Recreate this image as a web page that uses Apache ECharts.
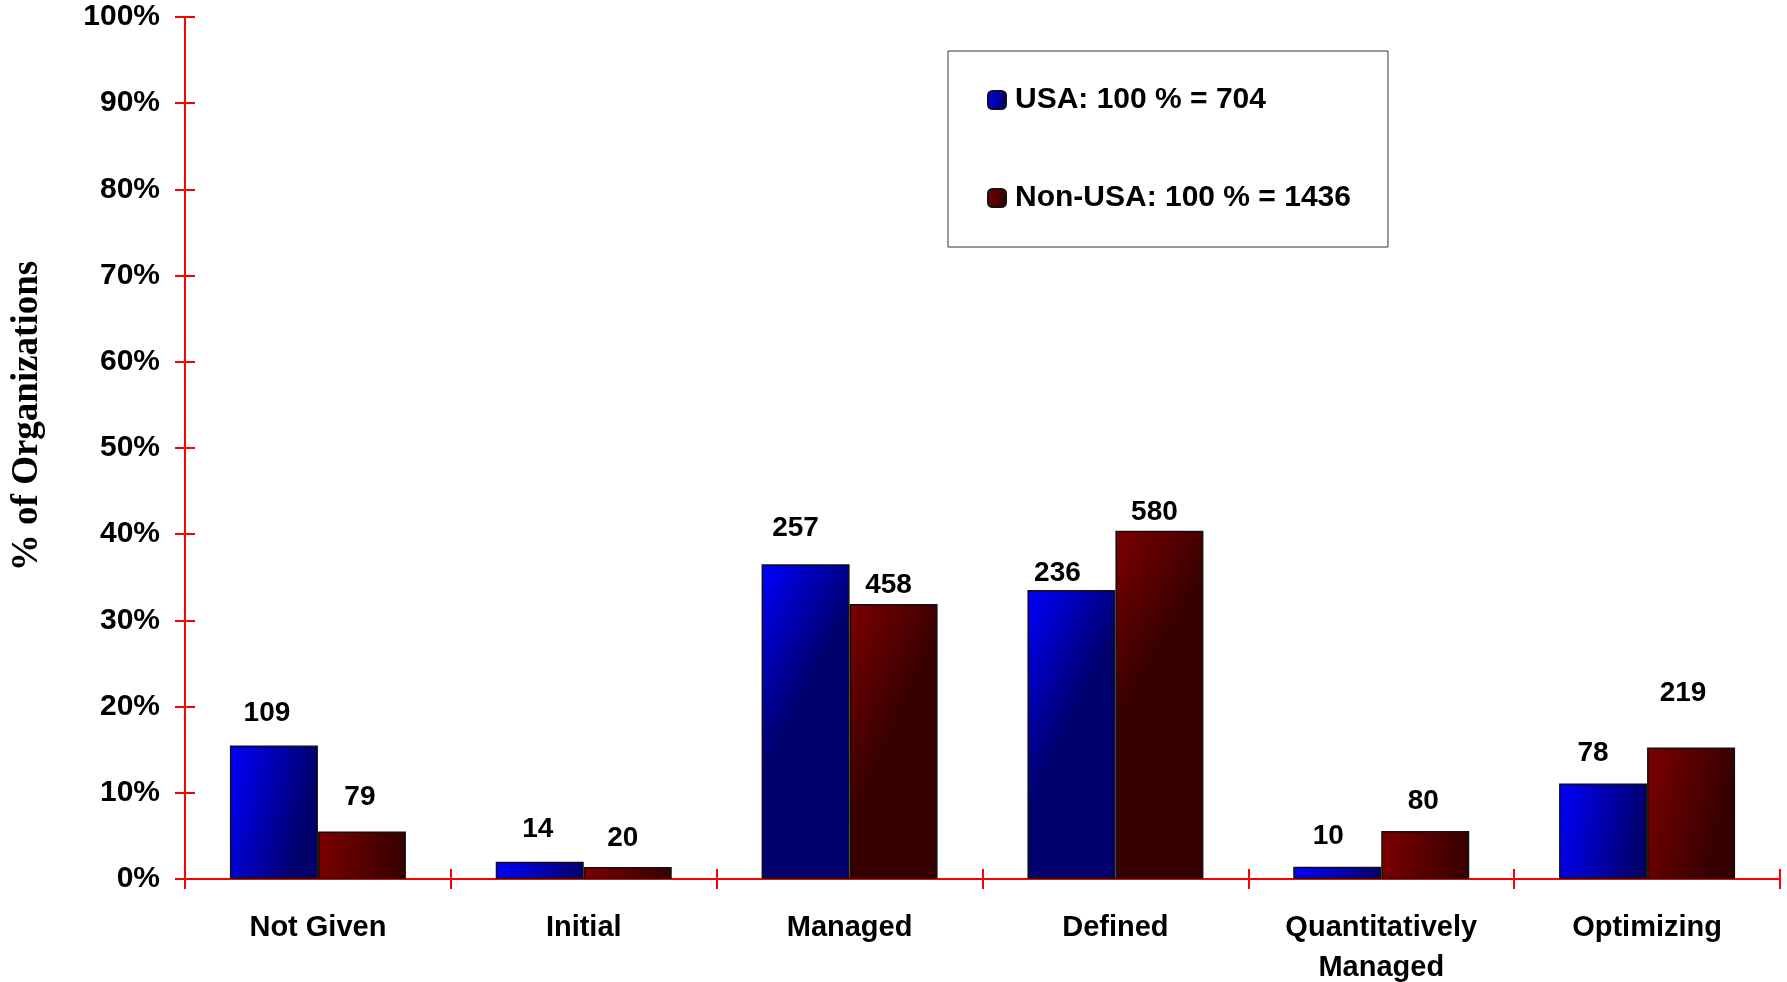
<!DOCTYPE html>
<html>
<head>
<meta charset="utf-8">
<script src="https://cdn.jsdelivr.net/npm/echarts@6/dist/echarts.min.js"></script>
<style>
  html, body { margin: 0; padding: 0; background: #ffffff; }
  #chart { width: 1787px; height: 982px; }
</style>
</head>
<body>
<div id="chart"></div>
<script>
// Maturity levels and organization counts per level
const categories = ['Not Given', 'Initial', 'Managed', 'Defined', 'Quantitatively\nManaged', 'Optimizing'];
const usaCounts = [109, 14, 257, 236, 10, 78];
const nonUsaCounts = [79, 20, 458, 580, 80, 219];
const usaTotal = 704;
const nonUsaTotal = 1436;
const yTicks = [0, 10, 20, 30, 40, 50, 60, 70, 80, 90, 100];

// Count labels sit at slightly different heights above each bar
const usaLabelLift = [18, 19, 22, 3, 16, 16];
const usaLabelShift = [-7, -2, -10, -14, -9, -10];
const nonUsaLabelLift = [20, 15, 5, 5, 16, 40];
const nonUsaLabelShift = [-2, -5, -5, -5, -2, -8];

const FONT = '"Liberation Sans", Arial, sans-serif';
const RED = '#ff0000';

function toItems(counts, total, lift, shift) {
  return counts.map((c, i) => ({
    value: c / total * 100,
    count: c,
    label: { distance: lift[i], offset: [shift[i], 0] }
  }));
}

const usaFill = new echarts.graphic.LinearGradient(0, 0, 1, 0.15, [
  { offset: 0, color: '#0000ff' },
  { offset: 1, color: '#00006c' }
]);
const nonUsaFill = new echarts.graphic.LinearGradient(0, 0, 1, 0.15, [
  { offset: 0, color: '#7c0000' },
  { offset: 1, color: '#360000' }
]);

const labelStyle = {
  show: true,
  position: 'top',
  color: '#000',
  fontFamily: FONT,
  fontWeight: 'bold',
  fontSize: 28,
  formatter: p => String(p.data.count)
};

const chart = echarts.init(document.getElementById('chart'), null, { renderer: 'canvas' });
chart.setOption({
  animation: false,
  backgroundColor: '#ffffff',
  grid: { left: 185, right: 7, top: 17, bottom: 103, containLabel: false, outerBoundsMode: 'none' },
  legend: {
    orient: 'vertical',
    left: 948,
    top: 51,
    padding: [34, 37, 34, 39],
    itemGap: 68,
    itemWidth: 18,
    itemHeight: 18,
    borderColor: '#333',
    borderWidth: 1,
    backgroundColor: '#fff',
    textStyle: {
      color: '#000', fontFamily: FONT, fontWeight: 'bold', fontSize: 30,
      lineHeight: 30, padding: [0, 0, 0, 4]
    },
    data: ['USA: 100 % = ' + usaTotal, 'Non-USA: 100 % = ' + nonUsaTotal]
  },
  xAxis: [
    {
      type: 'category',
      data: categories,
      position: 'bottom',
      axisLine: { lineStyle: { color: RED, width: 2 } },
      axisTick: { show: true, length: 10, lineStyle: { color: RED, width: 2 } },
      axisLabel: {
        color: '#000', fontFamily: FONT, fontWeight: 'bold', fontSize: 29,
        lineHeight: 40, margin: 29, interval: 0
      },
      splitLine: { show: false }
    },
    {
      type: 'category',
      data: categories,
      position: 'bottom',
      axisLine: { show: false },
      axisTick: { show: true, inside: true, length: 10, lineStyle: { color: RED, width: 2 } },
      axisLabel: { show: false },
      splitLine: { show: false }
    }
  ],
  yAxis: [
    {
      type: 'value',
      min: yTicks[0],
      max: yTicks[yTicks.length - 1],
      interval: 10,
      position: 'left',
      name: '% of Organizations',
      nameLocation: 'middle',
      nameGap: 139,
      nameRotate: 90,
      nameTextStyle: {
        color: '#000', fontFamily: '"Liberation Serif", "Times New Roman", serif',
        fontWeight: 'bold', fontSize: 37, padding: [0, 0, 0, 64]
      },
      axisLine: { show: true, lineStyle: { color: RED, width: 2 } },
      axisTick: { show: true, length: 10, lineStyle: { color: RED, width: 2 } },
      axisLabel: {
        color: '#000', fontFamily: FONT, fontWeight: 'bold', fontSize: 30,
        margin: 25, formatter: '{value}%'
      },
      splitLine: { show: false }
    },
    {
      type: 'value',
      min: yTicks[0],
      max: yTicks[yTicks.length - 1],
      interval: 10,
      position: 'left',
      axisLine: { show: false },
      axisTick: { show: true, inside: true, length: 10, lineStyle: { color: RED, width: 2 } },
      axisLabel: { show: false },
      splitLine: { show: false }
    }
  ],
  series: [
    {
      name: 'USA: 100 % = ' + usaTotal,
      type: 'bar',
      xAxisIndex: 0,
      yAxisIndex: 0,
      barWidth: 88,
      barGap: 0,
      itemStyle: { color: usaFill, borderColor: '#111', borderWidth: 1.5 },
      label: labelStyle,
      data: toItems(usaCounts, usaTotal, usaLabelLift, usaLabelShift)
    },
    {
      name: 'Non-USA: 100 % = ' + nonUsaTotal,
      type: 'bar',
      xAxisIndex: 0,
      yAxisIndex: 0,
      barWidth: 88,
      barGap: 0,
      itemStyle: { color: nonUsaFill, borderColor: '#111', borderWidth: 1.5 },
      label: labelStyle,
      data: toItems(nonUsaCounts, nonUsaTotal, nonUsaLabelLift, nonUsaLabelShift)
    }
  ]
});
</script>
</body>
</html>
